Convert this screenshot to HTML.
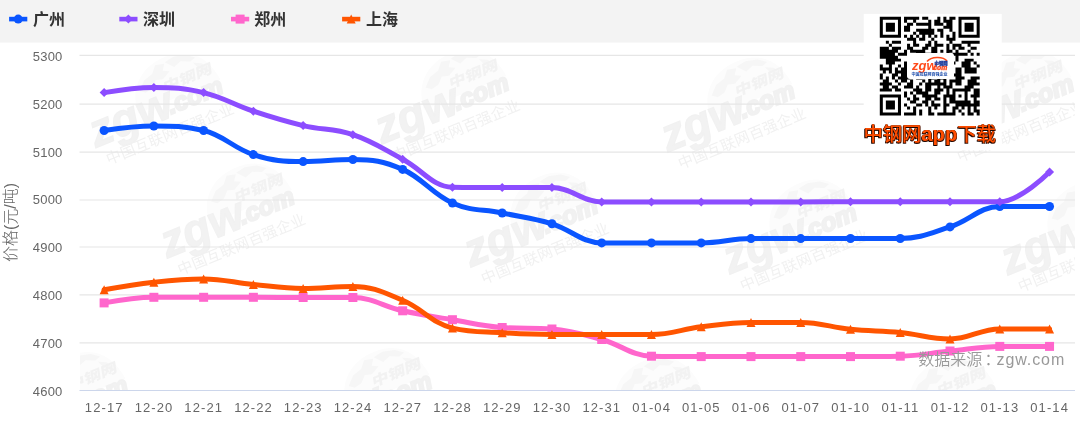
<!DOCTYPE html>
<html lang="zh-CN"><head><meta charset="utf-8"><title>价格走势</title>
<style>
html,body{margin:0;padding:0;background:#fff;}
body{width:1080px;height:426px;overflow:hidden;position:relative;font-family:"Liberation Sans","Noto Sans CJK SC",sans-serif;}
svg{position:absolute;left:0;top:0;display:block}
text{font-family:"Liberation Sans","Noto Sans CJK SC",sans-serif;}
.wm text{fill:#f2f2f2;font-weight:bold}
.yl text{font-size:13px;fill:#666;text-anchor:end;letter-spacing:.25px}
.xl text{font-size:13px;fill:#666;text-anchor:middle;letter-spacing:1.1px}
.lg text{font-size:16px;font-weight:bold;fill:#333}
.cap{position:absolute;left:863.5px;top:119.8px;height:28px;line-height:28px;font-size:19.3px;font-weight:500;color:#ff4d00;white-space:nowrap;text-shadow:-.9px .9px 0 #1a0500,.5px -.5px 0 #6a2000,-.5px -.5px 0 #6a2000,.7px .7px 0 #401000}
.cap b{font-weight:bold;font-size:20.2px}
</style></head><body>
<svg width="1080" height="426" viewBox="0 0 1080 426">
<defs><filter id="qb" x="-5%" y="-5%" width="110%" height="110%"><feGaussianBlur stdDeviation="0.45"/></filter><clipPath id="plot"><rect x="80" y="55" width="995" height="335.5"/></clipPath>
</defs>
<rect x="0" y="0" width="1080" height="42.6" fill="#f3f3f3"/>

<g clip-path="url(#plot)">
<g class="wm" transform="translate(96.0 147.8) rotate(-22.3)">
<path d="M52 -16 C54 -42 72 -58 98 -58 C122 -58 138 -44 141 -16 Z" fill="#fcfcfc"/>
<path transform="translate(0 -6)" d="M62 -30 l8 -8 l10 -3 l6 -7 l9 2 l-4 6 l6 3 l-9 5 l-7 -2 l-6 6 l-8 2z M96 -47 l10 -2 l12 3 l8 6 l-6 2 l-9 -4 l-8 3z M122 -36 l8 4 l4 9 l-7 -2z" fill="#f6f6f6"/>
<text x="0" y="0" font-size="46" font-style="italic" fill="#f1f1f1" stroke="#f1f1f1" stroke-width="1.2">zgw</text>
<text x="82" y="-2.5" font-size="25" font-style="italic" fill="#f1f1f1" stroke="#f1f1f1" stroke-width="2.2">.com</text>
<text transform="translate(84 -25.5) skewX(-14) scale(1.3 1)" font-size="13.5" style="font-weight:900">中钢网</text>
<text x="5.5" y="20.5" font-size="15" letter-spacing=".2" style="font-weight:400;fill:#f1f1f1">中国互联网百强企业</text>
</g>
<g class="wm" transform="translate(382.0 144.3) rotate(-22.3)">
<path d="M52 -16 C54 -42 72 -58 98 -58 C122 -58 138 -44 141 -16 Z" fill="#fcfcfc"/>
<path transform="translate(0 -6)" d="M62 -30 l8 -8 l10 -3 l6 -7 l9 2 l-4 6 l6 3 l-9 5 l-7 -2 l-6 6 l-8 2z M96 -47 l10 -2 l12 3 l8 6 l-6 2 l-9 -4 l-8 3z M122 -36 l8 4 l4 9 l-7 -2z" fill="#f6f6f6"/>
<text x="0" y="0" font-size="46" font-style="italic" fill="#f1f1f1" stroke="#f1f1f1" stroke-width="1.2">zgw</text>
<text x="82" y="-2.5" font-size="25" font-style="italic" fill="#f1f1f1" stroke="#f1f1f1" stroke-width="2.2">.com</text>
<text transform="translate(84 -25.5) skewX(-14) scale(1.3 1)" font-size="13.5" style="font-weight:900">中钢网</text>
<text x="5.5" y="20.5" font-size="15" letter-spacing=".2" style="font-weight:400;fill:#f1f1f1">中国互联网百强企业</text>
</g>
<g class="wm" transform="translate(668.0 152.3) rotate(-22.3)">
<path d="M52 -16 C54 -42 72 -58 98 -58 C122 -58 138 -44 141 -16 Z" fill="#fcfcfc"/>
<path transform="translate(0 -6)" d="M62 -30 l8 -8 l10 -3 l6 -7 l9 2 l-4 6 l6 3 l-9 5 l-7 -2 l-6 6 l-8 2z M96 -47 l10 -2 l12 3 l8 6 l-6 2 l-9 -4 l-8 3z M122 -36 l8 4 l4 9 l-7 -2z" fill="#f6f6f6"/>
<text x="0" y="0" font-size="46" font-style="italic" fill="#f1f1f1" stroke="#f1f1f1" stroke-width="1.2">zgw</text>
<text x="82" y="-2.5" font-size="25" font-style="italic" fill="#f1f1f1" stroke="#f1f1f1" stroke-width="2.2">.com</text>
<text transform="translate(84 -25.5) skewX(-14) scale(1.3 1)" font-size="13.5" style="font-weight:900">中钢网</text>
<text x="5.5" y="20.5" font-size="15" letter-spacing=".2" style="font-weight:400;fill:#f1f1f1">中国互联网百强企业</text>
</g>
<g class="wm" transform="translate(947.0 145.3) rotate(-22.3)">
<path d="M52 -16 C54 -42 72 -58 98 -58 C122 -58 138 -44 141 -16 Z" fill="#fcfcfc"/>
<path transform="translate(0 -6)" d="M62 -30 l8 -8 l10 -3 l6 -7 l9 2 l-4 6 l6 3 l-9 5 l-7 -2 l-6 6 l-8 2z M96 -47 l10 -2 l12 3 l8 6 l-6 2 l-9 -4 l-8 3z M122 -36 l8 4 l4 9 l-7 -2z" fill="#f6f6f6"/>
<text x="0" y="0" font-size="46" font-style="italic" fill="#f1f1f1" stroke="#f1f1f1" stroke-width="1.2">zgw</text>
<text x="82" y="-2.5" font-size="25" font-style="italic" fill="#f1f1f1" stroke="#f1f1f1" stroke-width="2.2">.com</text>
<text transform="translate(84 -25.5) skewX(-14) scale(1.3 1)" font-size="13.5" style="font-weight:900">中钢网</text>
<text x="5.5" y="20.5" font-size="15" letter-spacing=".2" style="font-weight:400;fill:#f1f1f1">中国互联网百强企业</text>
</g>
<g class="wm" transform="translate(167.5 258.3) rotate(-22.3)">
<path d="M52 -16 C54 -42 72 -58 98 -58 C122 -58 138 -44 141 -16 Z" fill="#fcfcfc"/>
<path transform="translate(0 -6)" d="M62 -30 l8 -8 l10 -3 l6 -7 l9 2 l-4 6 l6 3 l-9 5 l-7 -2 l-6 6 l-8 2z M96 -47 l10 -2 l12 3 l8 6 l-6 2 l-9 -4 l-8 3z M122 -36 l8 4 l4 9 l-7 -2z" fill="#f6f6f6"/>
<text x="0" y="0" font-size="46" font-style="italic" fill="#f1f1f1" stroke="#f1f1f1" stroke-width="1.2">zgw</text>
<text x="82" y="-2.5" font-size="25" font-style="italic" fill="#f1f1f1" stroke="#f1f1f1" stroke-width="2.2">.com</text>
<text transform="translate(84 -25.5) skewX(-14) scale(1.3 1)" font-size="13.5" style="font-weight:900">中钢网</text>
<text x="5.5" y="20.5" font-size="15" letter-spacing=".2" style="font-weight:400;fill:#f1f1f1">中国互联网百强企业</text>
</g>
<g class="wm" transform="translate(471.0 267.3) rotate(-22.3)">
<path d="M52 -16 C54 -42 72 -58 98 -58 C122 -58 138 -44 141 -16 Z" fill="#fcfcfc"/>
<path transform="translate(0 -6)" d="M62 -30 l8 -8 l10 -3 l6 -7 l9 2 l-4 6 l6 3 l-9 5 l-7 -2 l-6 6 l-8 2z M96 -47 l10 -2 l12 3 l8 6 l-6 2 l-9 -4 l-8 3z M122 -36 l8 4 l4 9 l-7 -2z" fill="#f6f6f6"/>
<text x="0" y="0" font-size="46" font-style="italic" fill="#f1f1f1" stroke="#f1f1f1" stroke-width="1.2">zgw</text>
<text x="82" y="-2.5" font-size="25" font-style="italic" fill="#f1f1f1" stroke="#f1f1f1" stroke-width="2.2">.com</text>
<text transform="translate(84 -25.5) skewX(-14) scale(1.3 1)" font-size="13.5" style="font-weight:900">中钢网</text>
<text x="5.5" y="20.5" font-size="15" letter-spacing=".2" style="font-weight:400;fill:#f1f1f1">中国互联网百强企业</text>
</g>
<g class="wm" transform="translate(730.0 274.3) rotate(-22.3)">
<path d="M52 -16 C54 -42 72 -58 98 -58 C122 -58 138 -44 141 -16 Z" fill="#fcfcfc"/>
<path transform="translate(0 -6)" d="M62 -30 l8 -8 l10 -3 l6 -7 l9 2 l-4 6 l6 3 l-9 5 l-7 -2 l-6 6 l-8 2z M96 -47 l10 -2 l12 3 l8 6 l-6 2 l-9 -4 l-8 3z M122 -36 l8 4 l4 9 l-7 -2z" fill="#f6f6f6"/>
<text x="0" y="0" font-size="46" font-style="italic" fill="#f1f1f1" stroke="#f1f1f1" stroke-width="1.2">zgw</text>
<text x="82" y="-2.5" font-size="25" font-style="italic" fill="#f1f1f1" stroke="#f1f1f1" stroke-width="2.2">.com</text>
<text transform="translate(84 -25.5) skewX(-14) scale(1.3 1)" font-size="13.5" style="font-weight:900">中钢网</text>
<text x="5.5" y="20.5" font-size="15" letter-spacing=".2" style="font-weight:400;fill:#f1f1f1">中国互联网百强企业</text>
</g>
<g class="wm" transform="translate(1008.0 275.3) rotate(-22.3)">
<path d="M52 -16 C54 -42 72 -58 98 -58 C122 -58 138 -44 141 -16 Z" fill="#fcfcfc"/>
<path transform="translate(0 -6)" d="M62 -30 l8 -8 l10 -3 l6 -7 l9 2 l-4 6 l6 3 l-9 5 l-7 -2 l-6 6 l-8 2z M96 -47 l10 -2 l12 3 l8 6 l-6 2 l-9 -4 l-8 3z M122 -36 l8 4 l4 9 l-7 -2z" fill="#f6f6f6"/>
<text x="0" y="0" font-size="46" font-style="italic" fill="#f1f1f1" stroke="#f1f1f1" stroke-width="1.2">zgw</text>
<text x="82" y="-2.5" font-size="25" font-style="italic" fill="#f1f1f1" stroke="#f1f1f1" stroke-width="2.2">.com</text>
<text transform="translate(84 -25.5) skewX(-14) scale(1.3 1)" font-size="13.5" style="font-weight:900">中钢网</text>
<text x="5.5" y="20.5" font-size="15" letter-spacing=".2" style="font-weight:400;fill:#f1f1f1">中国互联网百强企业</text>
</g>
<g class="wm" transform="translate(1.0 446.8) rotate(-22.3)">
<path d="M52 -16 C54 -42 72 -58 98 -58 C122 -58 138 -44 141 -16 Z" fill="#fcfcfc"/>
<path transform="translate(0 -6)" d="M62 -30 l8 -8 l10 -3 l6 -7 l9 2 l-4 6 l6 3 l-9 5 l-7 -2 l-6 6 l-8 2z M96 -47 l10 -2 l12 3 l8 6 l-6 2 l-9 -4 l-8 3z M122 -36 l8 4 l4 9 l-7 -2z" fill="#f6f6f6"/>
<text x="0" y="0" font-size="46" font-style="italic" fill="#f1f1f1" stroke="#f1f1f1" stroke-width="1.2">zgw</text>
<text x="82" y="-2.5" font-size="25" font-style="italic" fill="#f1f1f1" stroke="#f1f1f1" stroke-width="2.2">.com</text>
<text transform="translate(84 -25.5) skewX(-14) scale(1.3 1)" font-size="13.5" style="font-weight:900">中钢网</text>
<text x="5.5" y="20.5" font-size="15" letter-spacing=".2" style="font-weight:400;fill:#f1f1f1">中国互联网百强企业</text>
</g>
<g class="wm" transform="translate(305.0 442.8) rotate(-22.3)">
<path d="M52 -16 C54 -42 72 -58 98 -58 C122 -58 138 -44 141 -16 Z" fill="#fcfcfc"/>
<path transform="translate(0 -6)" d="M62 -30 l8 -8 l10 -3 l6 -7 l9 2 l-4 6 l6 3 l-9 5 l-7 -2 l-6 6 l-8 2z M96 -47 l10 -2 l12 3 l8 6 l-6 2 l-9 -4 l-8 3z M122 -36 l8 4 l4 9 l-7 -2z" fill="#f6f6f6"/>
<text x="0" y="0" font-size="46" font-style="italic" fill="#f1f1f1" stroke="#f1f1f1" stroke-width="1.2">zgw</text>
<text x="82" y="-2.5" font-size="25" font-style="italic" fill="#f1f1f1" stroke="#f1f1f1" stroke-width="2.2">.com</text>
<text transform="translate(84 -25.5) skewX(-14) scale(1.3 1)" font-size="13.5" style="font-weight:900">中钢网</text>
<text x="5.5" y="20.5" font-size="15" letter-spacing=".2" style="font-weight:400;fill:#f1f1f1">中国互联网百强企业</text>
</g>
<g class="wm" transform="translate(575.0 451.8) rotate(-22.3)">
<path d="M52 -16 C54 -42 72 -58 98 -58 C122 -58 138 -44 141 -16 Z" fill="#fcfcfc"/>
<path transform="translate(0 -6)" d="M62 -30 l8 -8 l10 -3 l6 -7 l9 2 l-4 6 l6 3 l-9 5 l-7 -2 l-6 6 l-8 2z M96 -47 l10 -2 l12 3 l8 6 l-6 2 l-9 -4 l-8 3z M122 -36 l8 4 l4 9 l-7 -2z" fill="#f6f6f6"/>
<text x="0" y="0" font-size="46" font-style="italic" fill="#f1f1f1" stroke="#f1f1f1" stroke-width="1.2">zgw</text>
<text x="82" y="-2.5" font-size="25" font-style="italic" fill="#f1f1f1" stroke="#f1f1f1" stroke-width="2.2">.com</text>
<text transform="translate(84 -25.5) skewX(-14) scale(1.3 1)" font-size="13.5" style="font-weight:900">中钢网</text>
<text x="5.5" y="20.5" font-size="15" letter-spacing=".2" style="font-weight:400;fill:#f1f1f1">中国互联网百强企业</text>
</g>
<g class="wm" transform="translate(870.0 451.8) rotate(-22.3)">
<path d="M52 -16 C54 -42 72 -58 98 -58 C122 -58 138 -44 141 -16 Z" fill="#fcfcfc"/>
<path transform="translate(0 -6)" d="M62 -30 l8 -8 l10 -3 l6 -7 l9 2 l-4 6 l6 3 l-9 5 l-7 -2 l-6 6 l-8 2z M96 -47 l10 -2 l12 3 l8 6 l-6 2 l-9 -4 l-8 3z M122 -36 l8 4 l4 9 l-7 -2z" fill="#f6f6f6"/>
<text x="0" y="0" font-size="46" font-style="italic" fill="#f1f1f1" stroke="#f1f1f1" stroke-width="1.2">zgw</text>
<text x="82" y="-2.5" font-size="25" font-style="italic" fill="#f1f1f1" stroke="#f1f1f1" stroke-width="2.2">.com</text>
<text transform="translate(84 -25.5) skewX(-14) scale(1.3 1)" font-size="13.5" style="font-weight:900">中钢网</text>
<text x="5.5" y="20.5" font-size="15" letter-spacing=".2" style="font-weight:400;fill:#f1f1f1">中国互联网百强企业</text>
</g>
</g>
<path d="M79.5 55.3H1075" stroke="#e6e6e6" stroke-width="1.2" fill="none"/>
<path d="M79.5 104.2H1075" stroke="#e6e6e6" stroke-width="1.2" fill="none"/>
<path d="M79.5 152.2H1075" stroke="#e6e6e6" stroke-width="1.2" fill="none"/>
<path d="M79.5 200.0H1075" stroke="#e6e6e6" stroke-width="1.2" fill="none"/>
<path d="M79.5 247.0H1075" stroke="#e6e6e6" stroke-width="1.2" fill="none"/>
<path d="M79.5 294.85H1075" stroke="#e6e6e6" stroke-width="1.2" fill="none"/>
<path d="M79.5 342.8H1075" stroke="#e6e6e6" stroke-width="1.2" fill="none"/>
<path d="M79.5 390.5H1075" stroke="#ccd6eb" stroke-width="1.2" fill="none"/>
<path d="M104.10 130.50C104.10 130.50 133.96 126.00 153.86 126.00C173.76 126.00 183.72 126.00 203.62 130.50C223.52 135.00 233.48 148.38 253.38 154.60C273.28 160.82 283.24 161.60 303.14 161.60C323.04 161.60 333.00 159.50 352.90 159.50C372.80 159.50 382.76 160.70 402.66 169.40C422.56 178.10 432.52 194.28 452.42 203.00C472.32 211.72 482.28 208.84 502.18 213.00C522.08 217.16 532.04 217.82 551.94 223.80C571.84 229.78 581.80 242.90 601.70 242.90C621.60 242.90 631.56 242.90 651.46 242.90C671.36 242.90 681.32 242.90 701.22 242.90C721.12 242.90 731.08 238.60 750.98 238.60C770.88 238.60 780.84 238.60 800.74 238.60C820.64 238.60 830.60 238.50 850.50 238.50C870.40 238.50 880.36 238.50 900.26 238.50C920.16 238.50 930.12 233.30 950.02 226.90C969.92 220.50 979.88 206.50 999.78 206.50C1019.68 206.50 1049.54 206.50 1049.54 206.50" fill="none" stroke="#0a55ff" stroke-width="5" stroke-linejoin="round" stroke-linecap="round"/>
<circle cx="104.10" cy="130.50" r="4.5" fill="#0a55ff"/>
<circle cx="153.86" cy="126.00" r="4.5" fill="#0a55ff"/>
<circle cx="203.62" cy="130.50" r="4.5" fill="#0a55ff"/>
<circle cx="253.38" cy="154.60" r="4.5" fill="#0a55ff"/>
<circle cx="303.14" cy="161.60" r="4.5" fill="#0a55ff"/>
<circle cx="352.90" cy="159.50" r="4.5" fill="#0a55ff"/>
<circle cx="402.66" cy="169.40" r="4.5" fill="#0a55ff"/>
<circle cx="452.42" cy="203.00" r="4.5" fill="#0a55ff"/>
<circle cx="502.18" cy="213.00" r="4.5" fill="#0a55ff"/>
<circle cx="551.94" cy="223.80" r="4.5" fill="#0a55ff"/>
<circle cx="601.70" cy="242.90" r="4.5" fill="#0a55ff"/>
<circle cx="651.46" cy="242.90" r="4.5" fill="#0a55ff"/>
<circle cx="701.22" cy="242.90" r="4.5" fill="#0a55ff"/>
<circle cx="750.98" cy="238.60" r="4.5" fill="#0a55ff"/>
<circle cx="800.74" cy="238.60" r="4.5" fill="#0a55ff"/>
<circle cx="850.50" cy="238.50" r="4.5" fill="#0a55ff"/>
<circle cx="900.26" cy="238.50" r="4.5" fill="#0a55ff"/>
<circle cx="950.02" cy="226.90" r="4.5" fill="#0a55ff"/>
<circle cx="999.78" cy="206.50" r="4.5" fill="#0a55ff"/>
<circle cx="1049.54" cy="206.50" r="4.5" fill="#0a55ff"/>
<path d="M104.10 92.60C104.10 92.60 133.96 87.40 153.86 87.40C173.76 87.40 183.72 87.84 203.62 92.60C223.52 97.36 233.48 104.60 253.38 111.20C273.28 117.80 283.24 120.90 303.14 125.60C323.04 130.30 333.00 127.98 352.90 134.70C372.80 141.42 382.76 148.70 402.66 159.20C422.56 169.70 432.52 186.80 452.42 187.20C472.32 187.60 482.28 187.60 502.18 187.60C522.08 187.60 532.04 187.60 551.94 187.60C571.84 187.60 581.80 201.90 601.70 201.90C621.60 201.90 631.56 201.90 651.46 201.90C671.36 201.90 681.32 201.90 701.22 201.90C721.12 201.90 731.08 201.90 750.98 201.90C770.88 201.90 780.84 201.90 800.74 201.90C820.64 201.90 830.60 201.80 850.50 201.80C870.40 201.80 880.36 201.80 900.26 201.80C920.16 201.80 930.12 201.80 950.02 201.80C969.92 201.80 979.88 201.80 999.78 201.80C1019.68 201.80 1049.54 172.10 1049.54 172.10" fill="none" stroke="#8c4dff" stroke-width="5" stroke-linejoin="round" stroke-linecap="round"/>
<path d="M104.10 88.10L108.60 92.60L104.10 97.10L99.60 92.60Z" fill="#8c4dff"/>
<path d="M153.86 82.90L158.36 87.40L153.86 91.90L149.36 87.40Z" fill="#8c4dff"/>
<path d="M203.62 88.10L208.12 92.60L203.62 97.10L199.12 92.60Z" fill="#8c4dff"/>
<path d="M253.38 106.70L257.88 111.20L253.38 115.70L248.88 111.20Z" fill="#8c4dff"/>
<path d="M303.14 121.10L307.64 125.60L303.14 130.10L298.64 125.60Z" fill="#8c4dff"/>
<path d="M352.90 130.20L357.40 134.70L352.90 139.20L348.40 134.70Z" fill="#8c4dff"/>
<path d="M402.66 154.70L407.16 159.20L402.66 163.70L398.16 159.20Z" fill="#8c4dff"/>
<path d="M452.42 182.70L456.92 187.20L452.42 191.70L447.92 187.20Z" fill="#8c4dff"/>
<path d="M502.18 183.10L506.68 187.60L502.18 192.10L497.68 187.60Z" fill="#8c4dff"/>
<path d="M551.94 183.10L556.44 187.60L551.94 192.10L547.44 187.60Z" fill="#8c4dff"/>
<path d="M601.70 197.40L606.20 201.90L601.70 206.40L597.20 201.90Z" fill="#8c4dff"/>
<path d="M651.46 197.40L655.96 201.90L651.46 206.40L646.96 201.90Z" fill="#8c4dff"/>
<path d="M701.22 197.40L705.72 201.90L701.22 206.40L696.72 201.90Z" fill="#8c4dff"/>
<path d="M750.98 197.40L755.48 201.90L750.98 206.40L746.48 201.90Z" fill="#8c4dff"/>
<path d="M800.74 197.40L805.24 201.90L800.74 206.40L796.24 201.90Z" fill="#8c4dff"/>
<path d="M850.50 197.30L855.00 201.80L850.50 206.30L846.00 201.80Z" fill="#8c4dff"/>
<path d="M900.26 197.30L904.76 201.80L900.26 206.30L895.76 201.80Z" fill="#8c4dff"/>
<path d="M950.02 197.30L954.52 201.80L950.02 206.30L945.52 201.80Z" fill="#8c4dff"/>
<path d="M999.78 197.30L1004.28 201.80L999.78 206.30L995.28 201.80Z" fill="#8c4dff"/>
<path d="M1049.54 167.60L1054.04 172.10L1049.54 176.60L1045.04 172.10Z" fill="#8c4dff"/>
<path d="M104.10 302.90C104.10 302.90 133.96 297.30 153.86 297.30C173.76 297.30 183.72 297.30 203.62 297.30C223.52 297.30 233.48 297.30 253.38 297.30C273.28 297.30 283.24 297.50 303.14 297.50C323.04 297.50 333.00 297.50 352.90 297.50C372.80 297.50 382.76 306.36 402.66 310.80C422.56 315.24 432.52 316.36 452.42 319.70C472.32 323.04 482.28 326.00 502.18 327.50C522.08 329.00 532.04 327.50 551.94 329.00C571.84 330.50 581.80 334.06 601.70 339.50C621.60 344.94 631.56 355.80 651.46 356.20C671.36 356.60 681.32 356.60 701.22 356.60C721.12 356.60 731.08 356.60 750.98 356.60C770.88 356.60 780.84 356.60 800.74 356.60C820.64 356.60 830.60 356.60 850.50 356.60C870.40 356.60 880.36 356.60 900.26 356.20C920.16 355.80 930.12 352.96 950.02 351.00C969.92 349.04 979.88 346.40 999.78 346.40C1019.68 346.40 1049.54 346.40 1049.54 346.40" fill="none" stroke="#ff66cc" stroke-width="5" stroke-linejoin="round" stroke-linecap="round"/>
<rect x="99.60" y="298.40" width="9.0" height="9.0" fill="#ff66cc"/>
<rect x="149.36" y="292.80" width="9.0" height="9.0" fill="#ff66cc"/>
<rect x="199.12" y="292.80" width="9.0" height="9.0" fill="#ff66cc"/>
<rect x="248.88" y="292.80" width="9.0" height="9.0" fill="#ff66cc"/>
<rect x="298.64" y="293.00" width="9.0" height="9.0" fill="#ff66cc"/>
<rect x="348.40" y="293.00" width="9.0" height="9.0" fill="#ff66cc"/>
<rect x="398.16" y="306.30" width="9.0" height="9.0" fill="#ff66cc"/>
<rect x="447.92" y="315.20" width="9.0" height="9.0" fill="#ff66cc"/>
<rect x="497.68" y="323.00" width="9.0" height="9.0" fill="#ff66cc"/>
<rect x="547.44" y="324.50" width="9.0" height="9.0" fill="#ff66cc"/>
<rect x="597.20" y="335.00" width="9.0" height="9.0" fill="#ff66cc"/>
<rect x="646.96" y="351.70" width="9.0" height="9.0" fill="#ff66cc"/>
<rect x="696.72" y="352.10" width="9.0" height="9.0" fill="#ff66cc"/>
<rect x="746.48" y="352.10" width="9.0" height="9.0" fill="#ff66cc"/>
<rect x="796.24" y="352.10" width="9.0" height="9.0" fill="#ff66cc"/>
<rect x="846.00" y="352.10" width="9.0" height="9.0" fill="#ff66cc"/>
<rect x="895.76" y="351.70" width="9.0" height="9.0" fill="#ff66cc"/>
<rect x="945.52" y="346.50" width="9.0" height="9.0" fill="#ff66cc"/>
<rect x="995.28" y="341.90" width="9.0" height="9.0" fill="#ff66cc"/>
<rect x="1045.04" y="341.90" width="9.0" height="9.0" fill="#ff66cc"/>
<path d="M104.10 289.80C104.10 289.80 133.96 284.38 153.86 282.20C173.76 280.02 183.72 278.90 203.62 278.90C223.52 278.90 233.48 282.60 253.38 284.50C273.28 286.40 283.24 288.40 303.14 288.40C323.04 288.40 333.00 286.50 352.90 286.50C372.80 286.50 382.76 291.98 402.66 300.30C422.56 308.62 432.52 323.50 452.42 328.10C472.32 332.70 482.28 331.42 502.18 332.70C522.08 333.98 532.04 334.50 551.94 334.50C571.84 334.50 581.80 334.50 601.70 334.50C621.60 334.50 631.56 334.50 651.46 334.50C671.36 334.50 681.32 329.20 701.22 326.80C721.12 324.40 731.08 322.50 750.98 322.50C770.88 322.50 780.84 322.50 800.74 322.50C820.64 322.50 830.60 327.30 850.50 329.30C870.40 331.30 880.36 330.56 900.26 332.50C920.16 334.44 930.12 339.00 950.02 339.00C969.92 339.00 979.88 328.90 999.78 328.90C1019.68 328.90 1049.54 328.90 1049.54 328.90" fill="none" stroke="#ff5500" stroke-width="5" stroke-linejoin="round" stroke-linecap="round"/>
<path d="M104.10 285.30L108.60 294.30L99.60 294.30Z" fill="#ff5500"/>
<path d="M153.86 277.70L158.36 286.70L149.36 286.70Z" fill="#ff5500"/>
<path d="M203.62 274.40L208.12 283.40L199.12 283.40Z" fill="#ff5500"/>
<path d="M253.38 280.00L257.88 289.00L248.88 289.00Z" fill="#ff5500"/>
<path d="M303.14 283.90L307.64 292.90L298.64 292.90Z" fill="#ff5500"/>
<path d="M352.90 282.00L357.40 291.00L348.40 291.00Z" fill="#ff5500"/>
<path d="M402.66 295.80L407.16 304.80L398.16 304.80Z" fill="#ff5500"/>
<path d="M452.42 323.60L456.92 332.60L447.92 332.60Z" fill="#ff5500"/>
<path d="M502.18 328.20L506.68 337.20L497.68 337.20Z" fill="#ff5500"/>
<path d="M551.94 330.00L556.44 339.00L547.44 339.00Z" fill="#ff5500"/>
<path d="M601.70 330.00L606.20 339.00L597.20 339.00Z" fill="#ff5500"/>
<path d="M651.46 330.00L655.96 339.00L646.96 339.00Z" fill="#ff5500"/>
<path d="M701.22 322.30L705.72 331.30L696.72 331.30Z" fill="#ff5500"/>
<path d="M750.98 318.00L755.48 327.00L746.48 327.00Z" fill="#ff5500"/>
<path d="M800.74 318.00L805.24 327.00L796.24 327.00Z" fill="#ff5500"/>
<path d="M850.50 324.80L855.00 333.80L846.00 333.80Z" fill="#ff5500"/>
<path d="M900.26 328.00L904.76 337.00L895.76 337.00Z" fill="#ff5500"/>
<path d="M950.02 334.50L954.52 343.50L945.52 343.50Z" fill="#ff5500"/>
<path d="M999.78 324.40L1004.28 333.40L995.28 333.40Z" fill="#ff5500"/>
<path d="M1049.54 324.40L1054.04 333.40L1045.04 333.40Z" fill="#ff5500"/>
<rect x="863.7" y="13.9" width="138" height="136.4" fill="#fff"/>
<path d="M879.80 16.80h21.19v2.988h-21.19zM904.02 16.80h15.14v2.988h-15.14zM922.18 16.80h6.05v2.988h-6.05zM937.31 16.80h3.03v2.988h-3.03zM943.37 16.80h3.03v2.988h-3.03zM949.42 16.80h6.05v2.988h-6.05zM958.50 16.80h21.19v2.988h-21.19zM879.80 19.79h3.03v2.988h-3.03zM897.96 19.79h3.03v2.988h-3.03zM904.02 19.79h3.03v2.988h-3.03zM913.10 19.79h3.03v2.988h-3.03zM928.23 19.79h3.03v2.988h-3.03zM934.29 19.79h6.05v2.988h-6.05zM943.37 19.79h9.08v2.988h-9.08zM958.50 19.79h3.03v2.988h-3.03zM976.66 19.79h3.03v2.988h-3.03zM879.80 22.78h3.03v2.988h-3.03zM885.85 22.78h9.08v2.988h-9.08zM897.96 22.78h3.03v2.988h-3.03zM907.04 22.78h6.05v2.988h-6.05zM916.12 22.78h15.14v2.988h-15.14zM934.29 22.78h9.08v2.988h-9.08zM946.39 22.78h6.05v2.988h-6.05zM958.50 22.78h3.03v2.988h-3.03zM964.56 22.78h9.08v2.988h-9.08zM976.66 22.78h3.03v2.988h-3.03zM879.80 25.76h3.03v2.988h-3.03zM885.85 25.76h9.08v2.988h-9.08zM897.96 25.76h3.03v2.988h-3.03zM904.02 25.76h6.05v2.988h-6.05zM928.23 25.76h3.03v2.988h-3.03zM943.37 25.76h9.08v2.988h-9.08zM958.50 25.76h3.03v2.988h-3.03zM964.56 25.76h9.08v2.988h-9.08zM976.66 25.76h3.03v2.988h-3.03zM879.80 28.75h3.03v2.988h-3.03zM885.85 28.75h9.08v2.988h-9.08zM897.96 28.75h3.03v2.988h-3.03zM904.02 28.75h6.05v2.988h-6.05zM916.12 28.75h18.16v2.988h-18.16zM937.31 28.75h6.05v2.988h-6.05zM949.42 28.75h3.03v2.988h-3.03zM958.50 28.75h3.03v2.988h-3.03zM964.56 28.75h9.08v2.988h-9.08zM976.66 28.75h3.03v2.988h-3.03zM879.80 31.74h3.03v2.988h-3.03zM897.96 31.74h3.03v2.988h-3.03zM913.10 31.74h3.03v2.988h-3.03zM919.15 31.74h15.14v2.988h-15.14zM940.34 31.74h3.03v2.988h-3.03zM952.45 31.74h3.03v2.988h-3.03zM958.50 31.74h3.03v2.988h-3.03zM976.66 31.74h3.03v2.988h-3.03zM879.80 34.73h21.19v2.988h-21.19zM904.02 34.73h3.03v2.988h-3.03zM910.07 34.73h3.03v2.988h-3.03zM916.12 34.73h3.03v2.988h-3.03zM922.18 34.73h3.03v2.988h-3.03zM928.23 34.73h3.03v2.988h-3.03zM934.29 34.73h3.03v2.988h-3.03zM940.34 34.73h3.03v2.988h-3.03zM946.39 34.73h3.03v2.988h-3.03zM952.45 34.73h3.03v2.988h-3.03zM958.50 34.73h21.19v2.988h-21.19zM907.04 37.72h9.08v2.988h-9.08zM919.15 37.72h6.05v2.988h-6.05zM931.26 37.72h3.03v2.988h-3.03zM946.39 37.72h9.08v2.988h-9.08zM885.85 40.70h3.03v2.988h-3.03zM891.91 40.70h9.08v2.988h-9.08zM913.10 40.70h3.03v2.988h-3.03zM928.23 40.70h3.03v2.988h-3.03zM934.29 40.70h3.03v2.988h-3.03zM949.42 40.70h3.03v2.988h-3.03zM961.53 40.70h18.16v2.988h-18.16zM888.88 43.69h3.03v2.988h-3.03zM907.04 43.69h3.03v2.988h-3.03zM913.10 43.69h6.05v2.988h-6.05zM925.20 43.69h6.05v2.988h-6.05zM934.29 43.69h9.08v2.988h-9.08zM946.39 43.69h3.03v2.988h-3.03zM952.45 43.69h9.08v2.988h-9.08zM967.58 43.69h3.03v2.988h-3.03zM879.80 46.68h9.08v2.988h-9.08zM891.91 46.68h9.08v2.988h-9.08zM907.04 46.68h6.05v2.988h-6.05zM922.18 46.68h6.05v2.988h-6.05zM931.26 46.68h6.05v2.988h-6.05zM946.39 46.68h3.03v2.988h-3.03zM952.45 46.68h3.03v2.988h-3.03zM958.50 46.68h6.05v2.988h-6.05zM970.61 46.68h6.05v2.988h-6.05zM879.80 49.67h18.16v2.988h-18.16zM904.02 49.67h3.03v2.988h-3.03zM910.07 49.67h15.14v2.988h-15.14zM931.26 49.67h6.05v2.988h-6.05zM940.34 49.67h3.03v2.988h-3.03zM946.39 49.67h6.05v2.988h-6.05zM955.47 49.67h3.03v2.988h-3.03zM967.58 49.67h3.03v2.988h-3.03zM879.80 52.66h15.14v2.988h-15.14zM897.96 52.66h9.08v2.988h-9.08zM916.12 52.66h21.19v2.988h-21.19zM946.39 52.66h3.03v2.988h-3.03zM952.45 52.66h15.14v2.988h-15.14zM970.61 52.66h3.03v2.988h-3.03zM976.66 52.66h3.03v2.988h-3.03zM879.80 55.64h18.16v2.988h-18.16zM919.15 55.64h6.05v2.988h-6.05zM928.23 55.64h3.03v2.988h-3.03zM937.31 55.64h3.03v2.988h-3.03zM955.47 55.64h3.03v2.988h-3.03zM885.85 58.63h15.14v2.988h-15.14zM916.12 58.63h6.05v2.988h-6.05zM937.31 58.63h3.03v2.988h-3.03zM943.37 58.63h9.08v2.988h-9.08zM955.47 58.63h3.03v2.988h-3.03zM964.56 58.63h9.08v2.988h-9.08zM885.85 61.62h9.08v2.988h-9.08zM904.02 61.62h9.08v2.988h-9.08zM922.18 61.62h3.03v2.988h-3.03zM928.23 61.62h9.08v2.988h-9.08zM940.34 61.62h3.03v2.988h-3.03zM949.42 61.62h6.05v2.988h-6.05zM961.53 61.62h9.08v2.988h-9.08zM973.64 61.62h3.03v2.988h-3.03zM879.80 64.61h3.03v2.988h-3.03zM888.88 64.61h3.03v2.988h-3.03zM897.96 64.61h3.03v2.988h-3.03zM904.02 64.61h3.03v2.988h-3.03zM910.07 64.61h27.24v2.988h-27.24zM940.34 64.61h3.03v2.988h-3.03zM949.42 64.61h3.03v2.988h-3.03zM961.53 64.61h9.08v2.988h-9.08zM976.66 64.61h3.03v2.988h-3.03zM879.80 67.60h12.11v2.988h-12.11zM894.93 67.60h3.03v2.988h-3.03zM900.99 67.60h6.05v2.988h-6.05zM910.07 67.60h6.05v2.988h-6.05zM940.34 67.60h3.03v2.988h-3.03zM946.39 67.60h3.03v2.988h-3.03zM955.47 67.60h6.05v2.988h-6.05zM964.56 67.60h12.11v2.988h-12.11zM882.83 70.58h3.03v2.988h-3.03zM888.88 70.58h3.03v2.988h-3.03zM894.93 70.58h12.11v2.988h-12.11zM910.07 70.58h6.05v2.988h-6.05zM922.18 70.58h24.22v2.988h-24.22zM955.47 70.58h6.05v2.988h-6.05zM964.56 70.58h12.11v2.988h-12.11zM879.80 73.57h3.03v2.988h-3.03zM891.91 73.57h6.05v2.988h-6.05zM900.99 73.57h6.05v2.988h-6.05zM916.12 73.57h6.05v2.988h-6.05zM928.23 73.57h3.03v2.988h-3.03zM934.29 73.57h6.05v2.988h-6.05zM952.45 73.57h9.08v2.988h-9.08zM879.80 76.56h3.03v2.988h-3.03zM885.85 76.56h3.03v2.988h-3.03zM891.91 76.56h3.03v2.988h-3.03zM897.96 76.56h12.11v2.988h-12.11zM916.12 76.56h6.05v2.988h-6.05zM928.23 76.56h6.05v2.988h-6.05zM937.31 76.56h9.08v2.988h-9.08zM955.47 76.56h9.08v2.988h-9.08zM970.61 76.56h9.08v2.988h-9.08zM882.83 79.55h6.05v2.988h-6.05zM894.93 79.55h3.03v2.988h-3.03zM900.99 79.55h6.05v2.988h-6.05zM910.07 79.55h3.03v2.988h-3.03zM922.18 79.55h3.03v2.988h-3.03zM928.23 79.55h3.03v2.988h-3.03zM934.29 79.55h6.05v2.988h-6.05zM943.37 79.55h3.03v2.988h-3.03zM949.42 79.55h12.11v2.988h-12.11zM967.58 79.55h9.08v2.988h-9.08zM879.80 82.54h12.11v2.988h-12.11zM897.96 82.54h3.03v2.988h-3.03zM907.04 82.54h6.05v2.988h-6.05zM919.15 82.54h3.03v2.988h-3.03zM925.20 82.54h21.19v2.988h-21.19zM949.42 82.54h3.03v2.988h-3.03zM955.47 82.54h6.05v2.988h-6.05zM967.58 82.54h12.11v2.988h-12.11zM882.83 85.52h6.05v2.988h-6.05zM891.91 85.52h6.05v2.988h-6.05zM904.02 85.52h9.08v2.988h-9.08zM916.12 85.52h3.03v2.988h-3.03zM925.20 85.52h6.05v2.988h-6.05zM937.31 85.52h3.03v2.988h-3.03zM943.37 85.52h9.08v2.988h-9.08zM964.56 85.52h9.08v2.988h-9.08zM879.80 88.51h12.11v2.988h-12.11zM894.93 88.51h6.05v2.988h-6.05zM913.10 88.51h9.08v2.988h-9.08zM925.20 88.51h6.05v2.988h-6.05zM934.29 88.51h9.08v2.988h-9.08zM946.39 88.51h3.03v2.988h-3.03zM952.45 88.51h18.16v2.988h-18.16zM973.64 88.51h6.05v2.988h-6.05zM904.02 91.50h3.03v2.988h-3.03zM910.07 91.50h3.03v2.988h-3.03zM916.12 91.50h12.11v2.988h-12.11zM934.29 91.50h6.05v2.988h-6.05zM946.39 91.50h3.03v2.988h-3.03zM952.45 91.50h3.03v2.988h-3.03zM964.56 91.50h3.03v2.988h-3.03zM973.64 91.50h6.05v2.988h-6.05zM879.80 94.49h21.19v2.988h-21.19zM904.02 94.49h3.03v2.988h-3.03zM913.10 94.49h3.03v2.988h-3.03zM922.18 94.49h15.14v2.988h-15.14zM943.37 94.49h12.11v2.988h-12.11zM958.50 94.49h3.03v2.988h-3.03zM964.56 94.49h3.03v2.988h-3.03zM970.61 94.49h9.08v2.988h-9.08zM879.80 97.48h3.03v2.988h-3.03zM897.96 97.48h3.03v2.988h-3.03zM907.04 97.48h3.03v2.988h-3.03zM913.10 97.48h6.05v2.988h-6.05zM925.20 97.48h6.05v2.988h-6.05zM934.29 97.48h6.05v2.988h-6.05zM943.37 97.48h3.03v2.988h-3.03zM949.42 97.48h6.05v2.988h-6.05zM964.56 97.48h3.03v2.988h-3.03zM973.64 97.48h3.03v2.988h-3.03zM879.80 100.46h3.03v2.988h-3.03zM885.85 100.46h9.08v2.988h-9.08zM897.96 100.46h3.03v2.988h-3.03zM910.07 100.46h6.05v2.988h-6.05zM922.18 100.46h6.05v2.988h-6.05zM931.26 100.46h3.03v2.988h-3.03zM943.37 100.46h3.03v2.988h-3.03zM949.42 100.46h21.19v2.988h-21.19zM973.64 100.46h6.05v2.988h-6.05zM879.80 103.45h3.03v2.988h-3.03zM885.85 103.45h9.08v2.988h-9.08zM897.96 103.45h3.03v2.988h-3.03zM904.02 103.45h3.03v2.988h-3.03zM916.12 103.45h6.05v2.988h-6.05zM925.20 103.45h3.03v2.988h-3.03zM931.26 103.45h9.08v2.988h-9.08zM943.37 103.45h6.05v2.988h-6.05zM955.47 103.45h24.22v2.988h-24.22zM879.80 106.44h3.03v2.988h-3.03zM885.85 106.44h9.08v2.988h-9.08zM897.96 106.44h3.03v2.988h-3.03zM907.04 106.44h3.03v2.988h-3.03zM913.10 106.44h3.03v2.988h-3.03zM928.23 106.44h3.03v2.988h-3.03zM934.29 106.44h3.03v2.988h-3.03zM943.37 106.44h3.03v2.988h-3.03zM952.45 106.44h6.05v2.988h-6.05zM961.53 106.44h3.03v2.988h-3.03zM967.58 106.44h3.03v2.988h-3.03zM973.64 106.44h3.03v2.988h-3.03zM879.80 109.43h3.03v2.988h-3.03zM897.96 109.43h3.03v2.988h-3.03zM913.10 109.43h3.03v2.988h-3.03zM919.15 109.43h3.03v2.988h-3.03zM928.23 109.43h3.03v2.988h-3.03zM943.37 109.43h3.03v2.988h-3.03zM952.45 109.43h3.03v2.988h-3.03zM958.50 109.43h3.03v2.988h-3.03zM967.58 109.43h3.03v2.988h-3.03zM973.64 109.43h6.05v2.988h-6.05zM879.80 112.42h21.19v2.988h-21.19zM904.02 112.42h12.11v2.988h-12.11zM919.15 112.42h3.03v2.988h-3.03zM928.23 112.42h6.05v2.988h-6.05zM937.31 112.42h18.16v2.988h-18.16zM961.53 112.42h3.03v2.988h-3.03zM967.58 112.42h6.05v2.988h-6.05zM976.66 112.42h3.03v2.988h-3.03z" fill="#000" filter="url(#qb)"/>
<rect x="907" y="53" width="47" height="26" rx="3" fill="#fff"/>
<path d="M927 61.5C931 56.5 943 56 947 61" fill="none" stroke="#ff4a1a" stroke-width="1.6"/>
<text x="912" y="69.5" font-size="13" font-weight="bold" font-style="italic" fill="#ff4a1a">zgw</text>
<text x="933.3" y="69.5" font-size="6.8" font-weight="bold" font-style="italic" fill="#ff4a1a" stroke="#ff4a1a" stroke-width=".4">com</text>
<text x="934.5" y="64.6" font-size="4.4" font-weight="bold" fill="#1a3a9a" stroke="#1a3a9a" stroke-width=".3">中钢网</text>
<text x="911.5" y="76" font-size="4" font-weight="bold" fill="#1a4aaa">中国互联网百强企业</text>

<text y="364.5" font-size="16" fill="#999" style="font-weight:350"><tspan x="918.3">数据来源</tspan><tspan x="984.5">：</tspan><tspan x="996.6" letter-spacing=".9">zgw.com</tspan></text>

<g class="yl">
<text x="62.6" y="60.95">5300</text>
<text x="62.6" y="108.75">5200</text>
<text x="62.6" y="156.55">5100</text>
<text x="62.6" y="204.35">5000</text>
<text x="62.6" y="252.15">4900</text>
<text x="62.6" y="299.95">4800</text>
<text x="62.6" y="347.75">4700</text>
<text x="62.6" y="395.55">4600</text>
</g><g class="xl">
<text x="104.2" y="412">12-17</text>
<text x="154.0" y="412">12-20</text>
<text x="203.7" y="412">12-21</text>
<text x="253.5" y="412">12-22</text>
<text x="303.2" y="412">12-23</text>
<text x="353.0" y="412">12-24</text>
<text x="402.8" y="412">12-27</text>
<text x="452.5" y="412">12-28</text>
<text x="502.3" y="412">12-29</text>
<text x="552.0" y="412">12-30</text>
<text x="601.8" y="412">12-31</text>
<text x="651.6" y="412">01-04</text>
<text x="701.3" y="412">01-05</text>
<text x="751.1" y="412">01-06</text>
<text x="800.8" y="412">01-07</text>
<text x="850.6" y="412">01-10</text>
<text x="900.4" y="412">01-11</text>
<text x="950.1" y="412">01-12</text>
<text x="999.9" y="412">01-13</text>
<text x="1049.6" y="412">01-14</text>
</g>
<text transform="translate(15.8 222.5) rotate(-90)" text-anchor="middle" font-size="16" fill="#666" style="font-weight:300">价格(元/吨)</text>
<g class="lg">
<path d="M9.1 19.1h18.2" stroke="#0a55ff" stroke-width="4.6" fill="none"/>
<circle cx="18.20" cy="19.10" r="4.5" fill="#0a55ff"/>
<text x="33.1" y="25.3">广州</text>
<path d="M119.3 19.1h18.2" stroke="#8c4dff" stroke-width="4.6" fill="none"/>
<path d="M128.40 14.60L132.90 19.10L128.40 23.60L123.90 19.10Z" fill="#8c4dff"/>
<text x="143" y="25.3">深圳</text>
<path d="M231 19.1h18.2" stroke="#ff66cc" stroke-width="4.6" fill="none"/>
<rect x="235.60" y="14.60" width="9.0" height="9.0" fill="#ff66cc"/>
<text x="254.3" y="25.3">郑州</text>
<path d="M342.1 19.1h18.2" stroke="#ff5500" stroke-width="4.6" fill="none"/>
<path d="M351.20 14.60L355.70 23.60L346.70 23.60Z" fill="#ff5500"/>
<text x="366" y="25.3">上海</text>
</g>
</svg>
<div class="cap">中钢网<b>app</b>下载</div>
</body></html>
